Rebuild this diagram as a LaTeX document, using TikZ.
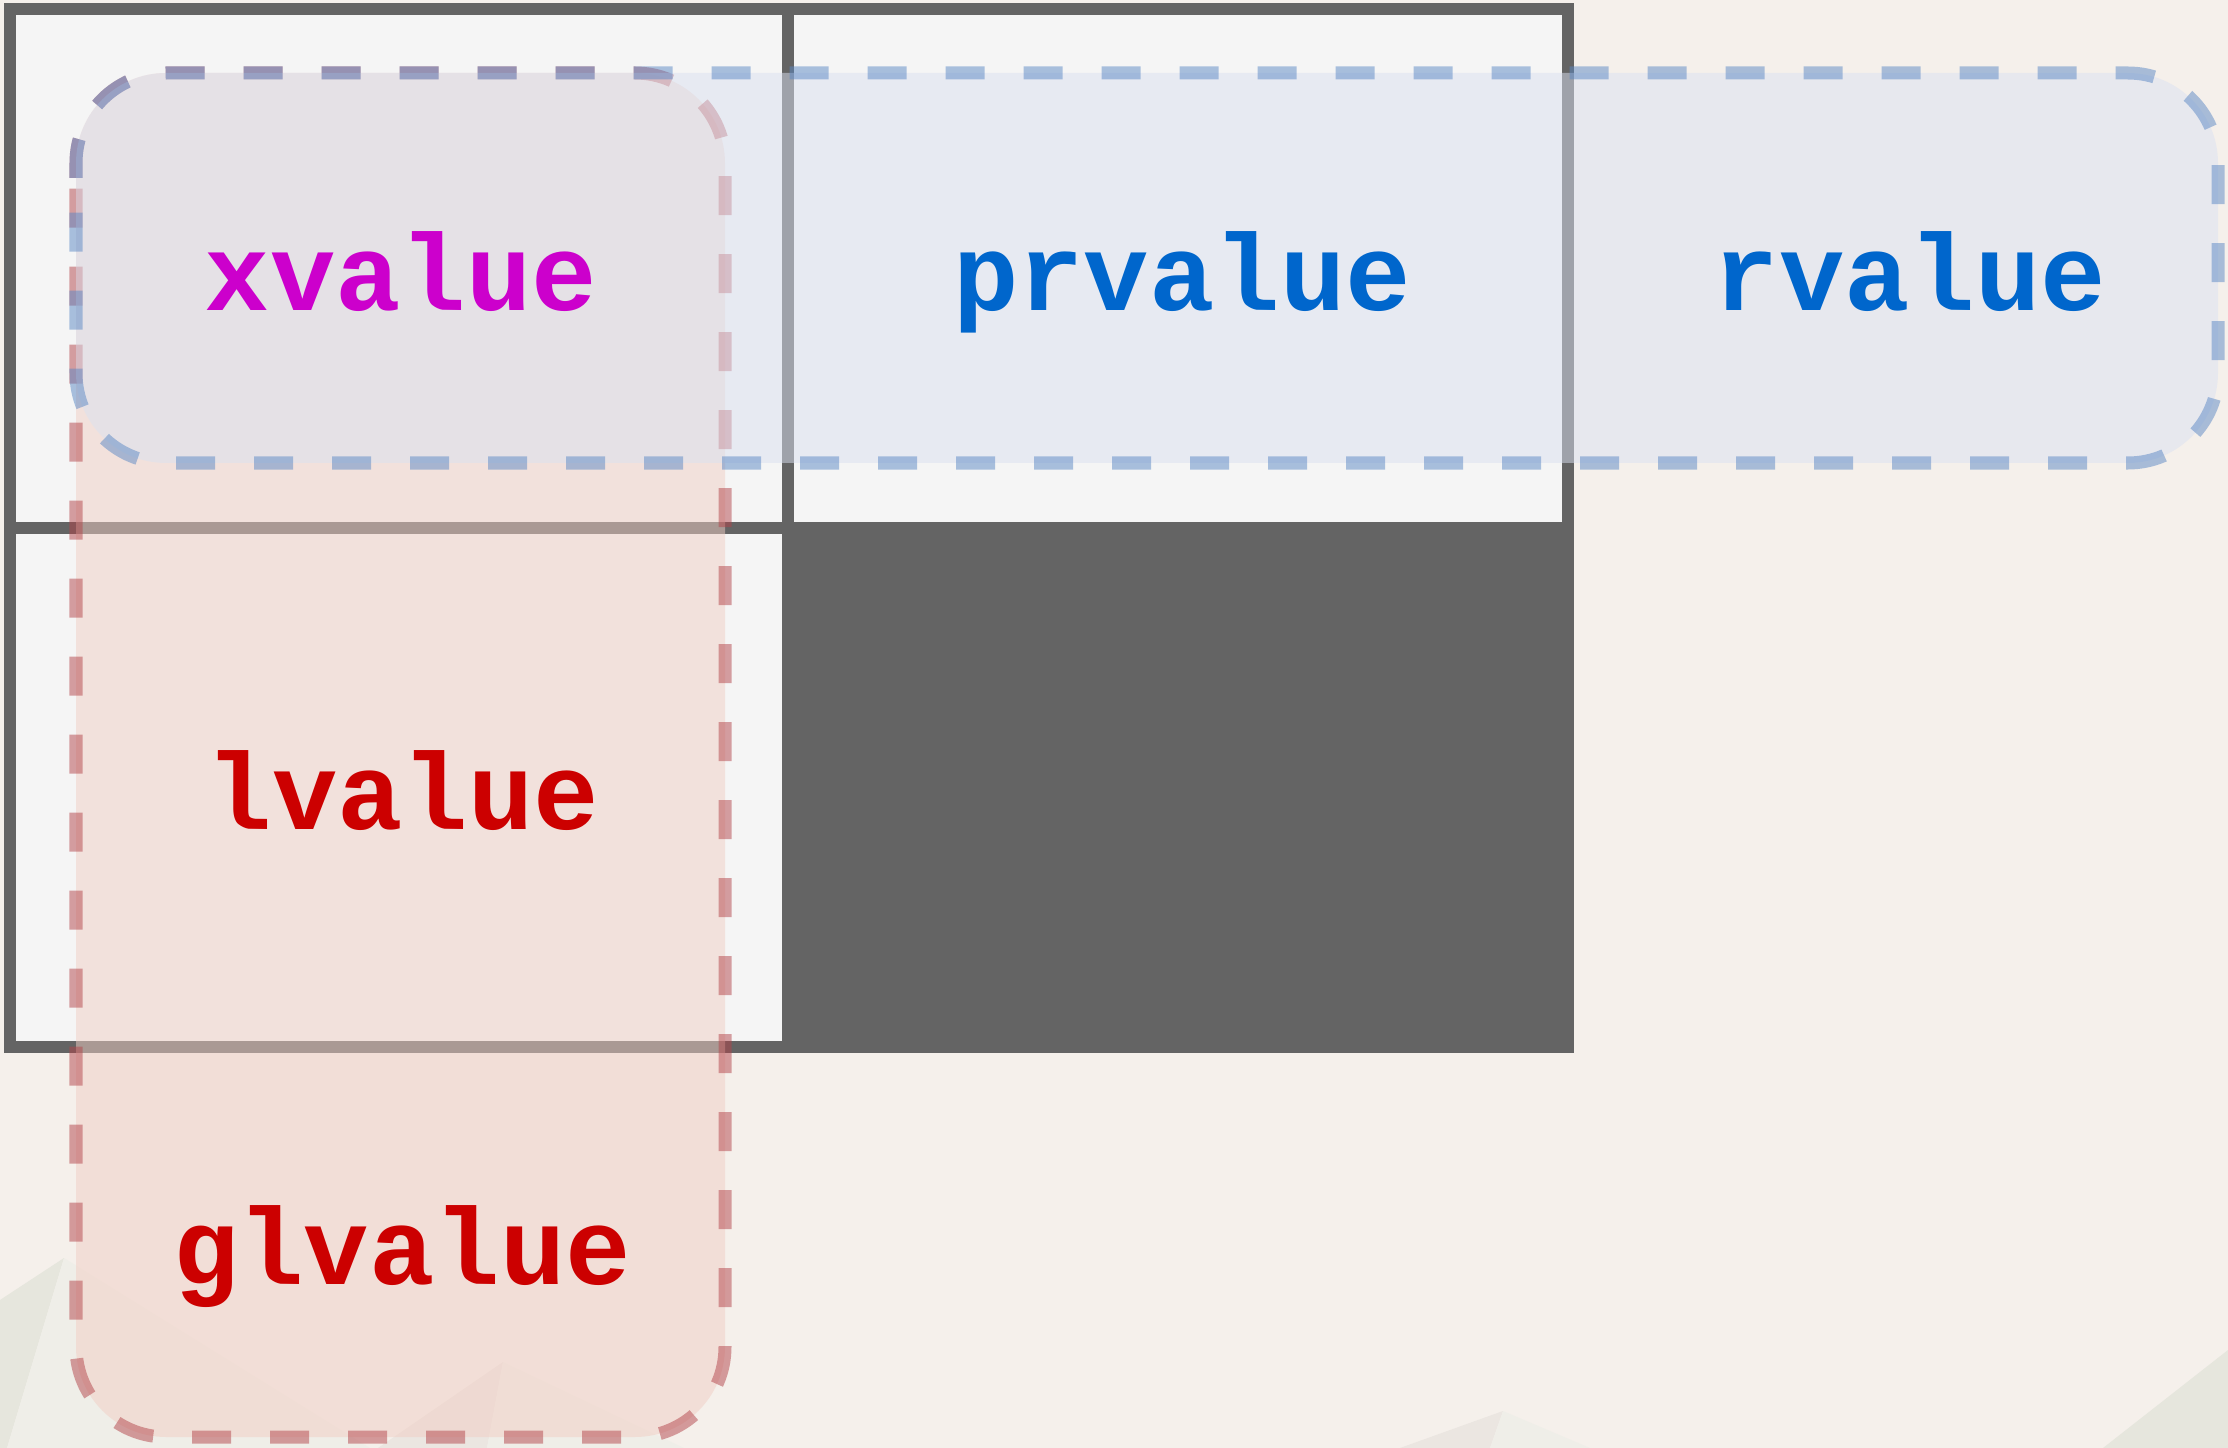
\documentclass[tikz,border=0pt]{standalone}
\usepackage{fontspec}
\newfontfamily\valuefont{Liberation Mono}
\definecolor{paper}{HTML}{F5F0EB}
\definecolor{cellbg}{HTML}{F5F5F5}
\definecolor{gridgray}{HTML}{646464}
\definecolor{facetgreen}{HTML}{E6E6DD}
\definecolor{facetlight}{HTML}{EFEEE8}
\definecolor{facetdark}{HTML}{EBE6E1}
\definecolor{redfill}{HTML}{F1CEC4}
\definecolor{redline}{HTML}{B3444A}
\definecolor{bluefill}{HTML}{DAE1F1}
\definecolor{blueline}{HTML}{5B88C5}
\definecolor{xcol}{HTML}{CC00CC}
\definecolor{lcol}{HTML}{CC0000}
\definecolor{rcol}{HTML}{0066CC}
\tikzset{
  px/.style={x=0.1mm,y=-0.1mm},
  gridline/.style={
    draw=gridgray,
    line width=3.5pt
  },
  catbox/.style={
    rounded corners=9mm,
    line width=3.7pt,
    dash pattern=on 3.9mm off 3.9mm,
    fill opacity=0.5,
    draw opacity=0.5
  },
  redbox/.style={catbox, fill=redfill, draw=redline},
  bluebox/.style={catbox, fill=bluefill, draw=blueline},
  valuetext/.style={
    font=\valuefont\bfseries\fontsize{31}{37}\selectfont,
    anchor=base,
    inner sep=0pt
  }
}
\begin{document}
\begin{tikzpicture}[px]
  \useasboundingbox[fill=paper] (0,0) rectangle (2228,1448);
  % faint facets along the bottom edge
  \fill[facetgreen] (0,1300) -- (64,1258) -- (7,1448) -- (0,1448) -- cycle;
  \fill[facetlight] (64,1258) -- (370,1448) -- (7,1448) -- cycle;
  \fill[facetdark] (503,1362) -- (487,1448) -- (378,1448) -- cycle;
  \fill[facetlight] (503,1362) -- (684,1448) -- (487,1448) -- cycle;
  \fill[facetdark] (1503,1411) -- (1490,1448) -- (1400,1448) -- cycle;
  \fill[facetlight] (1503,1411) -- (1590,1448) -- (1490,1448) -- cycle;
  \fill[facetgreen] (2228,1350) -- (2228,1448) -- (2103,1448) -- cycle;

  % 2x2 table, lower right cell is empty
  \fill[cellbg] (10,9) rectangle (1568,1047);
  \fill[gridgray] (788,528) rectangle (1568,1047);
  \draw[gridline] (10,9) rectangle (1568,1047)
    (788,9) -- (788,1047)
    (10,528) -- (1568,528);

  % glvalue column and rvalue row
  \path[redbox] (76,268) -- (76,73) -- (725,73) -- (725,1437) -- (76,1437) -- cycle;
  \path[bluebox] (76,268) -- (76,73) -- (2218,73) -- (2218,463) -- (76,463) -- cycle;

  \node[valuetext, text=xcol] (xv) at (401,311) {xvalue};
  \node[valuetext, text=rcol] (prv) at (1182,311) {prvalue};
  \node[valuetext, text=rcol] (rv) at (1910,311) {rvalue};
  \node[valuetext, text=lcol] (lv) at (403,829) {lvalue};
  \node[valuetext, text=lcol] (glv) at (402,1284) {glvalue};
\end{tikzpicture}
\end{document}
